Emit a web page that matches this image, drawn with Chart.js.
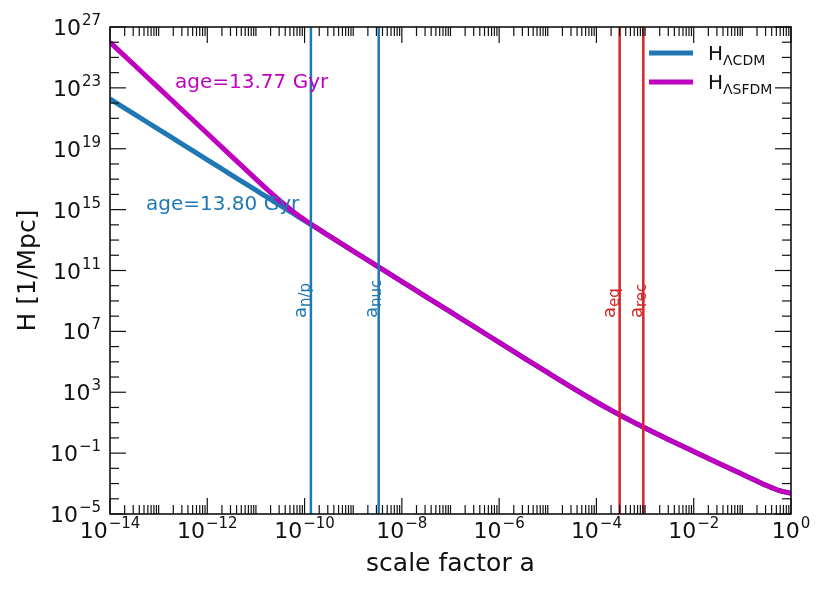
<!DOCTYPE html>
<html><head><meta charset="utf-8">
<script src="https://cdn.jsdelivr.net/npm/chart.js@4.4.1/dist/chart.umd.min.js"></script>
<style>html,body{margin:0;padding:0;background:#fff;}#wrap{width:830px;height:593px;}</style>
</head><body><div id="wrap"><canvas id="c" width="830" height="593"></canvas></div>
<script>
// ---- data ----
const scaleFactor = [1e-14, 3.16e-14, 1e-13, 3.16e-13, 1e-12, 3.16e-12, 1e-11, 1.78e-11, 3.16e-11, 5.62e-11,
  1e-10, 1.78e-10, 3.16e-10, 1e-9, 3.16e-9, 1e-8, 3.16e-8, 1e-7, 3.16e-7, 1e-6, 3.16e-6, 1e-5, 3.16e-5,
  1e-4, 1.78e-4, 3.16e-4, 5.62e-4, 1e-3, 1.78e-3, 3.16e-3, 1e-2, 3.16e-2, 1e-1, 1.78e-1, 3.16e-1, 5.62e-1, 1];
const hLCDM = [1.88e22, 1.88e21, 1.88e20, 1.88e19, 1.88e18, 1.88e17, 1.88e16, 6.03e15, 1.88e15, 6.03e14,
  1.88e14, 6.03e13, 1.88e13, 1.88e12, 1.88e11, 1.88e10, 1.88e9, 1.88e8, 1.88e7, 1.89e6, 1.90e5, 1.93e4, 2.02e3,
  228, 80.2, 29.5, 11.3, 4.45, 1.80, 0.741, 0.129, 0.0228, 4.05e-3, 1.71e-3, 7.41e-4, 3.57e-4, 2.29e-4];
const hLSFDM = [1.0e26, 3.16e24, 1.0e23, 3.16e21, 1.0e20, 3.17e18, 1.02e17, 1.88e16, 3.69e15, 8.24e14,
  2.15e14, 6.28e13, 1.93e13, 1.88e12, 1.88e11, 1.88e10, 1.88e9, 1.88e8, 1.88e7, 1.89e6, 1.90e5, 1.93e4, 2.02e3,
  228, 80.2, 29.5, 11.3, 4.45, 1.80, 0.741, 0.129, 0.0228, 4.05e-3, 1.71e-3, 7.41e-4, 3.57e-4, 2.29e-4];
const seriesNames = ['ΛCDM', 'ΛSFDM'];
const seriesColors = ['#1f77b4', '#bf00bf'];
const ageLabels = ['age=13.80 Gyr', 'age=13.77 Gyr'];
const markerNames = ['n/p', 'nuc', 'eq', 'rec'];
const markerA = [1.35e-10, 3.34e-9, 3.0e-4, 9.2e-4];
const markerColors = ['#1f77b4', '#1f77b4', '#d62728', '#d62728'];
const xMajorExp = [-14, -12, -10, -8, -6, -4, -2, 0];
const yMajorExp = [27, 23, 19, 15, 11, 7, 3, -1, -5];
const xLimits = [1e-14, 1];
const yLimits = [1e-5, 1e27];
const xTitle = 'scale factor a';
const yTitle = 'H [1/Mpc]';

const FONT = '"DejaVu Sans", sans-serif';
const INK = '#111';

function pts(xs, ys) { return xs.map((x, i) => ({x: x, y: ys[i]})); }

const datasets = [];
markerA.forEach((a, i) => {
  datasets.push({label: 'a_' + markerNames[i], data: [{x: a, y: yLimits[0]}, {x: a, y: yLimits[1]}],
    borderColor: markerColors[i], borderWidth: 2.5, pointRadius: 0, showLine: true, order: 0});
});
datasets.push({label: 'H_' + seriesNames[0], data: pts(scaleFactor, hLCDM), borderColor: seriesColors[0],
  borderWidth: 5, pointRadius: 0, showLine: true, cubicInterpolationMode: 'monotone', order: 2});
datasets.push({label: 'H_' + seriesNames[1], data: pts(scaleFactor, hLSFDM), borderColor: seriesColors[1],
  borderWidth: 5, pointRadius: 0, showLine: true, cubicInterpolationMode: 'monotone', order: 1});

function supStr(e) { return (e < 0 ? '\u2212' : '') + Math.abs(e); }

function drawPow(ctx, e, x, baseline, align) {
  ctx.font = '22px ' + FONT;
  const wb = ctx.measureText('10').width;
  ctx.font = '15px ' + FONT;
  const s = supStr(e);
  const we = ctx.measureText(s).width;
  const total = wb + 1 + we;
  let start = align === 'center' ? x - total / 2 : x - total;
  ctx.textAlign = 'left';
  ctx.textBaseline = 'alphabetic';
  ctx.font = '22px ' + FONT;
  ctx.fillText('10', start, baseline);
  ctx.font = '15px ' + FONT;
  ctx.fillText(s, start + wb + 1, baseline - 10);
}

const decor = {
  id: 'decor',
  afterDatasetsDraw(chart) {
    const ctx = chart.ctx, xs = chart.scales.x, ys = chart.scales.y, ca = chart.chartArea;
    ctx.save();
    ctx.fillStyle = INK; ctx.strokeStyle = INK;
    // ticks
    ctx.lineWidth = 1.2;
    const tick = (x1, y1, x2, y2) => { ctx.beginPath(); ctx.moveTo(x1, y1); ctx.lineTo(x2, y2); ctx.stroke(); };
    const xmin = Math.log10(xLimits[0]), xmax = Math.log10(xLimits[1]);
    for (let d = xmin; d < xmax; d++) {
      for (let k = 1; k <= 9; k++) {
        const v = k * Math.pow(10, d);
        const px = xs.getPixelForValue(v);
        const major = k === 1 && xMajorExp.includes(d);
        if (major) continue;
        tick(px, ca.bottom, px, ca.bottom - 9); tick(px, ca.top, px, ca.top + 9);
      }
    }
    xMajorExp.forEach(e => { const px = xs.getPixelForValue(Math.pow(10, e));
      tick(px, ca.bottom, px, ca.bottom - 16); tick(px, ca.top, px, ca.top + 16); });
    const ymin = Math.log10(yLimits[0]), ymax = Math.log10(yLimits[1]);
    for (let d = ymin; d <= ymax; d++) {
      const py = ys.getPixelForValue(Math.pow(10, d));
      const len = yMajorExp.includes(d) ? 16 : 9;
      tick(ca.left, py, ca.left + len, py); tick(ca.right, py, ca.right - len, py);
    }
    // frame
    ctx.lineWidth = 1.6;
    ctx.strokeRect(ca.left, ca.top, ca.right - ca.left, ca.bottom - ca.top);
    // tick labels
    xMajorExp.forEach(e => drawPow(ctx, e, xs.getPixelForValue(Math.pow(10, e)), ca.bottom + 24, 'center'));
    yMajorExp.forEach(e => drawPow(ctx, e, ca.left - 9, ys.getPixelForValue(Math.pow(10, e)) + 8, 'right'));
    // axis titles
    ctx.font = '25px ' + FONT; ctx.textAlign = 'center'; ctx.textBaseline = 'alphabetic';
    ctx.fillText(xTitle, (ca.left + ca.right) / 2, 571);
    ctx.save(); ctx.translate(35, (ca.top + ca.bottom) / 2); ctx.rotate(-Math.PI / 2);
    ctx.fillText(yTitle, 0, 0); ctx.restore();
    // age annotations
    ctx.font = '20px ' + FONT; ctx.textAlign = 'left';
    ctx.fillStyle = seriesColors[1]; ctx.fillText(ageLabels[1], 175, 88);
    ctx.fillStyle = seriesColors[0]; ctx.fillText(ageLabels[0], 146, 210);
    // marker labels (rotated)
    markerA.forEach((a, i) => {
      const px = xs.getPixelForValue(a);
      ctx.font = '15px ' + FONT;
      const m = ctx.measureText(markerNames[i]);
      const desc = m.actualBoundingBoxDescent;
      const shift = 4;
      const baseX = px - 1.5 - desc;
      ctx.save(); ctx.translate(baseX, 318); ctx.rotate(-Math.PI / 2);
      ctx.fillStyle = markerColors[i]; ctx.textAlign = 'left'; ctx.textBaseline = 'alphabetic';
      ctx.font = '18px ' + FONT; ctx.fillText('a', 0, 0);
      const wa = ctx.measureText('a').width;
      ctx.font = '15px ' + FONT; ctx.fillText(markerNames[i], wa, shift);
      ctx.restore();
    });
    // legend
    const legY = [53, 82];
    seriesNames.forEach((n, i) => {
      ctx.strokeStyle = seriesColors[i]; ctx.lineWidth = 5;
      ctx.beginPath(); ctx.moveTo(649, legY[i]); ctx.lineTo(693, legY[i]); ctx.stroke();
      ctx.fillStyle = INK; ctx.textAlign = 'left';
      ctx.font = '20px ' + FONT; ctx.fillText('H', 708, legY[i] + 7);
      const wh = ctx.measureText('H').width;
      ctx.font = '14px ' + FONT; ctx.fillText(n, 708 + wh, legY[i] + 12);
    });
    ctx.restore();
  }
};

new Chart(document.getElementById('c'), {
  type: 'scatter',
  data: {datasets: datasets},
  options: {
    responsive: false, animation: false, devicePixelRatio: 1,
    layout: {padding: {left: 110, right: 39, top: 27, bottom: 79}},
    plugins: {legend: {display: false}, tooltip: {enabled: false}},
    scales: {
      x: {type: 'logarithmic', min: xLimits[0], max: xLimits[1], display: false},
      y: {type: 'logarithmic', min: yLimits[0], max: yLimits[1], display: false}
    }
  },
  plugins: [decor]
});
</script></body></html>
